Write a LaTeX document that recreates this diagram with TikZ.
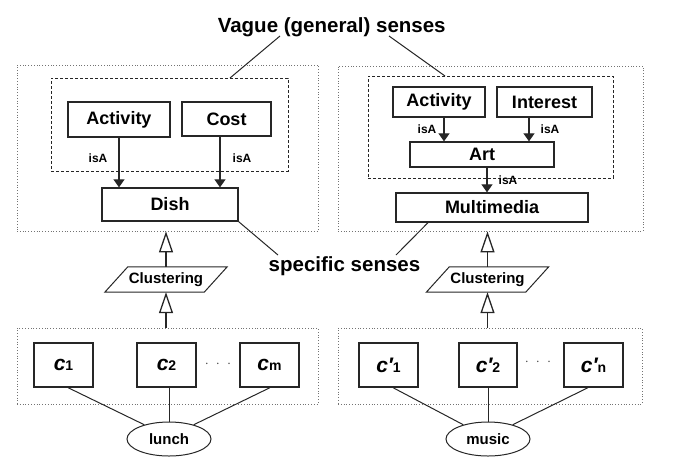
\documentclass[tikz,border=0pt]{standalone}
\usepackage{fontspec}
\setmainfont{Liberation Sans}
\usetikzlibrary{arrows.meta,shapes.geometric,calc}
\newcommand\cclabel[2]{{\fontsize{21}{21}\selectfont\bfseries\itshape c#1}{\fontsize{14}{14}\selectfont\bfseries #2}}
\begin{document}
\begin{tikzpicture}[x=1pt,y=-1pt,
  box/.style={draw=black!85,line width=1.3pt,inner sep=0pt,font=\fontsize{18}{18}\selectfont\bfseries},
  cbox/.style={draw=black!85,line width=1.3pt,inner sep=0pt,minimum width=59pt,minimum height=44pt},
  outer/.style={draw=black!55,dotted,line width=0.8pt,inner sep=0pt},
  inner/.style={draw=black!85,dash pattern=on 3pt off 2pt,line width=0.9pt,inner sep=0pt},
  isa/.style={font=\fontsize{12}{12}\selectfont\bfseries,inner sep=0pt},
  big/.style={font=\fontsize{20.5}{20.5}\selectfont\bfseries,inner sep=0pt},
  clu/.style={font=\fontsize{15}{15}\selectfont\bfseries,inner sep=0pt,minimum width=99pt,minimum height=25pt},
  ell/.style={draw=black!85,ellipse,line width=1pt,inner sep=0pt,minimum width=84pt,minimum height=34pt,font=\fontsize{15}{15}\selectfont\bfseries},
  arr/.style={draw=black!85,line width=1.2pt,-{Triangle[width=11pt,length=8pt]}},
  oarr/.style={draw=black!85,line width=1.3pt,-{Triangle[open,width=14pt,length=21pt]}},
  ln/.style={draw=black!85,line width=1pt},
  dots/.style={text=black!70,font=\fontsize{14}{14}\selectfont,inner sep=0pt}
]
\useasboundingbox (0,0) rectangle (692,472);

% ---------- left top ----------
\node[outer,minimum width=301pt,minimum height=166pt] (outL) at (167.5,148) {};
\node[inner,minimum width=237pt,minimum height=93pt] (dL) at (169.5,124.5) {};
\node[box,minimum width=102pt,minimum height=35pt] (act1) at (119,119.5) {Activity};
\node[box,minimum width=89pt,minimum height=34pt] (cost) at (226.5,119) {Cost};
\node[box,minimum width=136pt,minimum height=33pt] (dish) at (170,204.5) {Dish};
\coordinate (cx1) at (119,0);
\coordinate (cx2) at (220,0);
\draw[arr] (act1.south -| cx1) -- (dish.north -| cx1);
\draw[arr] (cost.south -| cx2) -- (dish.north -| cx2);
\node[isa] (isa1) at (98,158) {isA};
\node[isa] (isa2) at (242,158) {isA};

% ---------- right top ----------
\node[outer,minimum width=305pt,minimum height=165pt] (outR) at (490.5,148.5) {};
\node[inner,minimum width=245pt,minimum height=102pt] (dR) at (490.5,127) {};
\node[box,minimum width=92pt,minimum height=30pt] (act2) at (439,102) {Activity};
\node[box,minimum width=95pt,minimum height=30pt] (inte) at (544.5,102) {Interest};
\node[box,minimum width=144pt,minimum height=25pt] (art) at (482,154.5) {Art};
\node[box,minimum width=192pt,minimum height=29pt] (mm) at (492,207.5) {Multimedia};
\coordinate (cx3) at (444,0);
\coordinate (cx4) at (529,0);
\coordinate (cx5) at (487,0);
\draw[arr] (act2.south -| cx3) -- (art.north -| cx3);
\draw[arr] (inte.south -| cx4) -- (art.north -| cx4);
\draw[arr] (art.south -| cx5) -- (mm.north -| cx5);
\node[isa] (isa3) at (427,129) {isA};
\node[isa] (isa4) at (550,129) {isA};
\node[isa] (isa5) at (508,180) {isA};

% ---------- titles ----------
\node[big,anchor=base] (vague) at (331.7,32) {Vague (general) senses};
\node[big,anchor=base] (spec) at (344.5,271) {specific senses};
\coordinate (v1) at (280,36);
\coordinate (v1e) at (230,78);
\coordinate (v2) at (389,36);
\coordinate (v2e) at (445,76);
\draw[ln] (v1) -- (v1e);
\draw[ln] (v2) -- (v2e);
\coordinate (s1) at (278,255);
\coordinate (s2) at (396,255);
\coordinate (mmx) at (428,0);
\draw[ln] (dish.south east) -- (s1);
\draw[ln] (mm.south -| mmx) -- (s2);

% ---------- clustering ----------
\node[clu] (cl1) at (166,279.5) {Clustering};
\node[clu] (cl2) at (487.5,279.5) {Clustering};
\foreach \c in {cl1,cl2}{
  \draw[line width=1pt,draw=black!85] ($(\c.north west)+(11.5,0)$) -- ($(\c.north east)+(11.5,0)$)
    -- ($(\c.south east)+(-11.5,0)$) -- ($(\c.south west)+(-11.5,0)$) -- cycle;
}

% ---------- bottom boxes ----------
\node[outer,minimum width=301pt,minimum height=76pt] (botL) at (167.5,366) {};
\node[outer,minimum width=304pt,minimum height=76pt] (botR) at (490,366) {};

\draw[oarr] (cl1.north) -- (cl1.north |- outL.south);
\draw[oarr] (botL.north -| cl1.south) -- (cl1.south);
\draw[oarr] (cl2.north) -- (cl2.north |- outR.south);
\draw[oarr] (botR.north -| cl2.south) -- (cl2.south);

\node[cbox] (c1) at (63.5,365) {\cclabel{}{1}};
\node[cbox] (c2) at (166.5,365) {\cclabel{}{2}};
\node[cbox] (cm) at (269.5,365) {\cclabel{}{m}};
\node[dots] (d1) at (218,364) {$\cdot\;\cdot\;\cdot$};
\node[cbox] (e1) at (388.5,365) {\cclabel{′}{1}};
\node[cbox,minimum width=58pt] (e2) at (488,365) {\cclabel{′}{2}};
\node[cbox] (en) at (593.5,365) {\cclabel{′}{n}};
\node[dots] (d2) at (538,362) {$\cdot\;\cdot\;\cdot$};

\node[ell] (lunch) at (169,439) {lunch};
\node[ell] (music) at (488,439) {music};

\draw[ln] ($(c1.south)+(4.5,0)$) -- (lunch.150);
\draw[ln] (c2.south -| lunch.north) -- (lunch.north);
\draw[ln] ($(cm.south)+(0.5,0)$) -- (lunch.30);
\draw[ln] ($(e1.south)+(4.5,0)$) -- (music.150);
\draw[ln] (e2.south -| music.north) -- (music.north);
\draw[ln] ($(en.south)+(-5.5,0)$) -- (music.30);
\end{tikzpicture}
\end{document}
